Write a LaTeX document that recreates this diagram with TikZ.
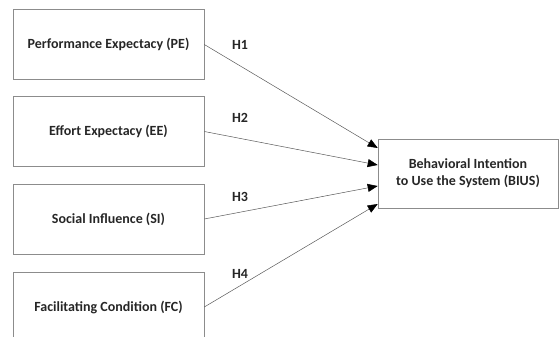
\documentclass[tikz,border=0pt]{standalone}
\usepackage{fontspec}
\setmainfont{Carlito}
\usetikzlibrary{arrows.meta}

\begin{document}
\begin{tikzpicture}[x=1pt, y=1pt,
      every node/.append style={font=\bfseries\fontsize{14}{17}\selectfont},
      ->, >={Triangle[length=10pt,width=8pt,color=black]}]
    \tikzstyle{factor} = [draw=black!45, line width=0.6pt, minimum width=191pt, minimum height=70pt, inner sep=0pt, text=black!85]
    \tikzstyle{path} = [draw=black!65, line width=0.5pt]
    \tikzstyle{hyp} = [color=black!85]
    \clip (0,0) rectangle (560,337);
    \node[factor] (PE) at (108.5,292.5) {Performance Expectacy (PE)};
    \node[factor] (EE) at (108.5,205.5) {Effort Expectacy (EE)};
    \node[factor] (SI) at (108.5,118) {Social Influence (SI)};
    \node[factor] (FC) at (108.5,30) {Facilitating Condition (FC)};
    \node[factor, minimum width=180pt, minimum height=69pt, align=center] (BIUS) at (468,163.5)
      {Behavioral Intention\\to Use the System (BIUS)};
    \coordinate (in1) at (BIUS.west |- 0,189);
    \coordinate (in2) at (BIUS.west |- 0,172);
    \coordinate (in3) at (BIUS.west |- 0,151);
    \coordinate (in4) at (BIUS.west |- 0,133);
    \draw[path] (PE.east) to (in1);
    \draw[path] (EE.east) to (in2);
    \draw[path] (SI.east) to (in3);
    \draw[path] (FC.east) to (in4);
    \node[hyp] (h1) at (240,292) {H1};
    \node[hyp] (h2) at (240,219) {H2};
    \node[hyp] (h3) at (240,140) {H3};
    \node[hyp] (h4) at (240,63) {H4};
\end{tikzpicture}
\end{document}
